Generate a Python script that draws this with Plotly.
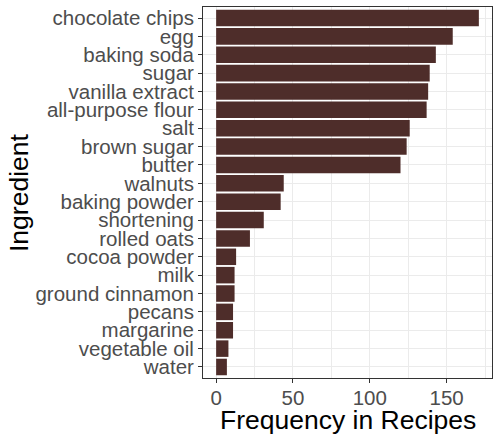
import plotly.graph_objects as go

ingredients = ["chocolate chips", "egg", "baking soda", "sugar", "vanilla extract",
               "all-purpose flour", "salt", "brown sugar", "butter", "walnuts",
               "baking powder", "shortening", "rolled oats", "cocoa powder", "milk",
               "ground cinnamon", "pecans", "margarine", "vegetable oil", "water"]
frequency = [171, 154, 143, 139, 138, 137, 126, 124, 120, 44,
             42, 31, 22, 13, 12, 12, 11, 11, 8, 7]
x_title = "Frequency in Recipes"
y_title = "Ingredient"

# plot bottom-to-top so first item is at top
cats = ingredients[::-1]
vals = frequency[::-1]

fig = go.Figure(go.Bar(
    x=vals, y=cats, orientation="h",
    marker=dict(color="#4E2D2A", line=dict(width=0)),
    width=0.9,
))

font_family = "Liberation Sans, Arial, sans-serif"
W, H = 500, 440
ML, MR, MT, MB = 203, 8, 7, 62
pw, ph = W - ML - MR, H - MT - MB


def px_x(px):
    return (px - ML) / pw


def px_y(py):
    return (H - MB - py) / ph


fig.update_layout(
    width=W, height=H,
    margin=dict(l=ML, r=MR, t=MT, b=MB),
    plot_bgcolor="white", paper_bgcolor="white",
    font=dict(family=font_family),
    showlegend=False,
    bargap=0.1,
    annotations=[
        dict(text=x_title, xref="paper", yref="paper", x=0.5, y=px_y(420.4),
             xanchor="center", yanchor="middle", showarrow=False,
             font=dict(size=26.5, color="black", family=font_family)),
        dict(text=y_title, xref="paper", yref="paper", x=px_x(18.5), y=0.5,
             xanchor="center", yanchor="middle", showarrow=False, textangle=-90,
             font=dict(size=26.5, color="black", family=font_family)),
    ],
)
fig.update_xaxes(
    range=[-8.55, 179.55],
    tickvals=[0, 50, 100, 150],
    ticks="outside", ticklen=4, tickwidth=1, tickcolor="#333333",
    ticklabelstandoff=-3,
    tickfont=dict(size=20.5, color="#4D4D4D", family=font_family),
    showgrid=True, gridcolor="#EBEBEB", gridwidth=1,
    minor=dict(tickvals=[25, 75, 125, 175], showgrid=True, gridcolor="#EBEBEB", gridwidth=1, ticklen=0),
    zeroline=False,
    showline=True, mirror=True, linecolor="#333333", linewidth=1,
    automargin=False,
)
fig.update_yaxes(
    categoryorder="array", categoryarray=cats,
    tickmode="array", tickvals=cats, ticktext=cats,
    range=[-0.6, len(cats) - 0.4],
    ticks="outside", ticklen=4, tickwidth=1, tickcolor="#333333",
    tickfont=dict(size=20.5, color="#4D4D4D", family=font_family),
    showgrid=True, gridcolor="#EBEBEB", gridwidth=1,
    zeroline=False,
    showline=True, mirror=True, linecolor="#333333", linewidth=1,
    automargin=False,
)

fig.write_html("out.html")
